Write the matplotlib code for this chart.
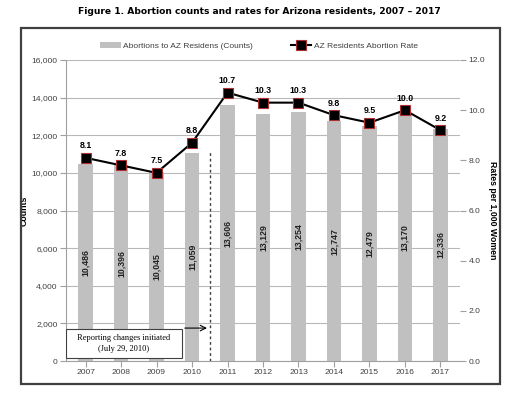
import numpy as np
import matplotlib.pyplot as plt
from matplotlib.patches import Rectangle

years = ['2007', '2008', '2009', '2010', '2011', '2012', '2013', '2014', '2015', '2016', '2017']
counts = [10486, 10396, 10045, 11059, 13606, 13129, 13254, 12747, 12479, 13170, 12336]
rates = [8.1, 7.8, 7.5, 8.7, 10.7, 10.3, 10.3, 9.8, 9.5, 10.0, 9.2]
rate_labels = ['8.1', '7.8', '7.5', '8.8', '10.7', '10.3', '10.3', '9.8', '9.5', '10.0', '9.2']

plt.rcParams['font.family'] = ['Liberation Sans', 'DejaVu Sans']

fig = plt.figure(figsize=(5.18, 3.98), dpi=100)
fig.patches.append(Rectangle((21 / 518, 1 - 384 / 398), 479 / 518, 356 / 398,
                             transform=fig.transFigure, fill=False,
                             edgecolor='#404040', linewidth=1.6))
fig.text(0.5, 1 - 11 / 398, 'Figure 1. Abortion counts and rates for Arizona residents, 2007 \u2013 2017',
         ha='center', va='center', fontsize=6.6, fontweight='bold', family='DejaVu Sans')

ax = fig.add_axes([66 / 518, 1 - 361 / 398, 394 / 518, 301 / 398])
x = np.arange(len(years))
bars = ax.bar(x, counts, width=0.4, color='#c0c0c0', zorder=2,
              label='Abortions to AZ Residens (Counts)')
for xi, c in zip(x, counts):
    ax.text(xi, c / 2, f'{c:,}', rotation=90, ha='center', va='center',
            fontsize=6.3, fontweight='bold', color='#202020', zorder=3)

ax.set_ylim(0, 16000)
ax.set_xlim(-0.55, len(years) - 0.45)
ax.set_yticks(range(0, 16001, 2000))
ax.set_yticklabels([f'{v:,}' for v in range(0, 16001, 2000)])
ax.set_xticks(x)
ax.set_xticklabels(years)
ax.grid(axis='y', color='#b8b8b8', linewidth=0.8, zorder=0)
ax.set_axisbelow(True)
for s in ['top', 'right']:
    ax.spines[s].set_visible(False)
ax.spines['left'].set_color('#a0a0a0')
ax.spines['bottom'].set_color('#a0a0a0')
ax.tick_params(axis='both', labelsize=6.1, colors='#404040', length=4, color='#a0a0a0', pad=2)
ax.set_ylabel('Counts', fontsize=6.3, fontweight='bold', labelpad=2)

ax2 = ax.twinx()
line, = ax2.plot(x, rates, color='black', linewidth=1.5, marker='s', markersize=6.5,
                 markerfacecolor='black', markeredgecolor='#b03030', markeredgewidth=0.8,
                 label='AZ Residents Abortion Rate', zorder=4)
for xi, r, lab in zip(x, rates, rate_labels):
    ax2.text(xi, r + 0.3, lab, ha='center', va='bottom', fontsize=6.3, fontweight='bold')
ax2.set_ylim(0, 12)
ax2.set_yticks(np.arange(0, 12.1, 2))
ax2.set_yticklabels([f'{v:.1f}' for v in np.arange(0, 12.1, 2)])
for s in ['top', 'left', 'bottom', 'right']:
    ax2.spines[s].set_visible(False)
ax2.tick_params(axis='y', labelsize=6.1, colors='#404040', length=4, color='#a0a0a0', pad=2)
ax2.set_ylabel('Rates per 1,000 Women', fontsize=6.3, fontweight='bold', rotation=270, labelpad=9)

# reporting change marker
ax.plot([3.5, 3.5], [0, 11200], linestyle=(0, (2, 2)), color='#404040', linewidth=1.0, zorder=3)
ax.annotate('', xy=(3.5, 1750), xytext=(2.72, 1750),
            arrowprops=dict(arrowstyle='->', color='black', lw=0.8), zorder=5)
ax.add_patch(Rectangle((-0.55, 160), 3.27, 1540, facecolor='white', edgecolor='#404040',
                       lw=0.8, zorder=5))
ax.text(1.085, 930, 'Reporting changes initiated\n(July 29, 2010)', ha='center', va='center',
        fontsize=6, family='Liberation Serif', zorder=6, linespacing=1.5)

fig.legend([bars, line], ['Abortions to AZ Residens (Counts)', 'AZ Residents Abortion Rate'],
           loc='center', bbox_to_anchor=(0.5, 1 - 46 / 398), ncol=2, frameon=False,
           fontsize=6, handlelength=2.5, columnspacing=4.5, handletextpad=0.3,
           labelcolor='#404040')

fig.savefig('out.png', dpi=100)
